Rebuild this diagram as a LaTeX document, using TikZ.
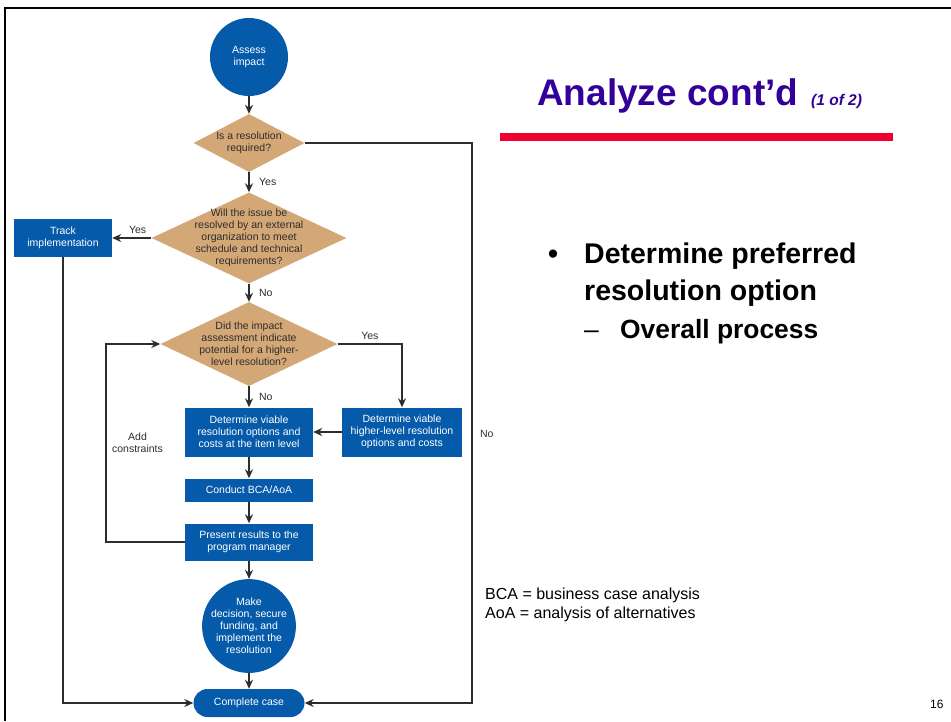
\documentclass[tikz,border=0pt]{standalone}
\usepackage{fontspec}
\setmainfont{Liberation Sans}
\usetikzlibrary{shapes.geometric,arrows.meta}
\definecolor{fblue}{RGB}{6,90,170}
\definecolor{ftan}{RGB}{212,168,118}
\definecolor{ttl}{RGB}{51,0,153}
\definecolor{rbar}{RGB}{238,0,48}
\definecolor{ln}{RGB}{45,45,45}
\begin{document}
\begin{tikzpicture}[x=1pt,y=-1pt,
 fc/.style={font=\fontsize{10.5}{12}\selectfont},
 bbox/.style={fill=fblue, text=white, align=center, inner sep=0, fc},
 circ/.style={circle, fill=fblue, text=white, align=center, inner sep=0, fc},
 dia/.style={diamond, fill=ftan, inner sep=0},
 dtext/.style={align=center, fc, text=ln},
 conn/.style={draw=ln, line width=1.6pt, -{Stealth[length=9pt,width=8pt]}},
 lab/.style={fc, text=ln},
 slide/.style={anchor=base west, inner sep=0, align=left},
]
\useasboundingbox (0,0) rectangle (951,721);
\draw[line width=2.5pt] (5,721) -- (5,8) -- (951,8);

% flowchart nodes
\node[circ, minimum size=78] (assess) at (249,57) {Assess\\impact};
\node[dia, minimum width=111, minimum height=58] (d1) at (249,143) {};
\node[dtext] (t1) at (d1) {Is a resolution\\required?};
\node[dia, minimum width=195, minimum height=91] (d2) at (249,238) {};
\node[dtext] (t2) at (d2) {Will the issue be\\resolved by an external\\organization to meet\\schedule and technical\\requirements?};
\node[bbox, minimum width=98, minimum height=38] (track) at (63,238) {Track\\implementation};
\node[dia, minimum width=177, minimum height=84] (d3) at (249,344) {};
\node[dtext] (t3) at (d3) {Did the impact\\assessment indicate\\potential for a higher-\\level resolution?};
\node[bbox, minimum width=128, minimum height=49] (det) at (249,432) {Determine viable\\resolution options and\\costs at the item level};
\node[bbox, minimum width=120, minimum height=49] (high) at (402,432) {Determine viable\\higher-level resolution\\options and costs};
\node[bbox, minimum width=128, minimum height=23] (bca) at (249,490) {Conduct BCA/AoA};
\node[bbox, minimum width=128, minimum height=37] (pres) at (249,542) {Present results to the\\program manager};
\node[circ, minimum size=86] (make) at (249,626) {Make\\decision, secure\\funding, and\\implement the\\resolution};
\node[bbox, rounded corners=14, minimum width=111, minimum height=28] (done) at (249,703) {Complete case};

\coordinate (lp) at (106,542);
\coordinate (rc) at (472,703);

% connectors
\draw[conn] (assess) -- (d1);
\draw[conn] (d1) -- node[lab, anchor=west, xshift=6pt]{Yes} (d2);
\draw[conn] (d2.west) -- node[lab, above, pos=0.35]{Yes} (track.east);
\draw[conn] (d2) -- node[lab, anchor=west, xshift=6pt]{No} (d3);
\draw[conn] (d3.east) -| node[lab, pos=0.25, above]{Yes} (high.north);
\draw[conn] (d3) -- node[lab, anchor=west, xshift=6pt]{No} (det);
\draw[conn] (high) -- (det);
\draw[conn] (det) -- (bca);
\draw[conn] (bca) -- (pres);
\draw[conn] (pres) -- (make);
\draw[conn] (make) -- (done);
\draw[conn] (pres.west) -- (lp) -- node[lab, pos=0.5, anchor=west, xshift=2pt, align=center]{Add\\constraints} (lp |- d3.west) -- (d3.west);
\draw[conn] (track.south) |- (done.west);
\draw[conn] (d1.east) -| node[lab, pos=0.76, anchor=west, xshift=4pt]{No} (rc) -- (done.east);

% slide text
\node[slide, text=ttl, font=\fontsize{37}{40}\selectfont\bfseries] (title) at (537,105) {Analyze cont’d};
\node[slide, text=ttl, font=\fontsize{15.5}{18}\selectfont\bfseries\itshape] (sub) at (811,105) {(1 of 2)};
\fill[rbar] (500,133) rectangle (893,141);
\node[anchor=base, inner sep=0, font=\fontsize{28.5}{37}\selectfont\bfseries] (bul) at (553,263) {•};
\node[slide, font=\fontsize{28.5}{37}\selectfont\bfseries] (b1) at (584,300) {Determine preferred\\resolution option};
\node[slide, font=\fontsize{26.4}{30}\selectfont] (dash) at (584,338) {–};
\node[slide, font=\fontsize{26.4}{30}\selectfont\bfseries] (b2) at (620,338) {Overall process};
\node[slide, font=\fontsize{16}{19}\selectfont] (abbr) at (485,618) {BCA = business case analysis\\AoA = analysis of alternatives};
\node[slide, font=\fontsize{12}{14}\selectfont] (pg) at (930,708) {16};
\end{tikzpicture}
\end{document}
